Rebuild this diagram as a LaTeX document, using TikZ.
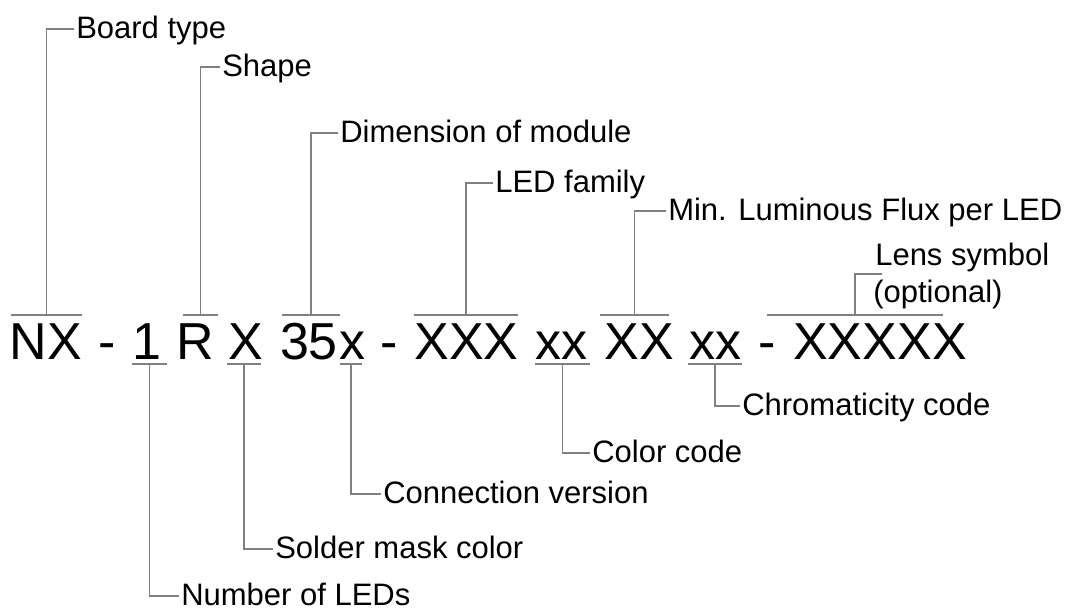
\documentclass[tikz,border=0pt]{standalone}
\usepackage{fontspec}
\setmainfont{Liberation Sans}
\definecolor{linegray}{RGB}{128,128,128}
\begin{document}
\begin{tikzpicture}[x=0.75pt,y=-0.75pt,
  code/.style={font=\fontsize{39}{45}\selectfont, inner sep=0pt, anchor=base},
  lbl/.style={font=\fontsize{23.25}{28}\selectfont, inner xsep=1.5pt, inner ysep=0pt,
              text height=13.5pt, text depth=0pt, anchor=west},
  lblb/.style={font=\fontsize{23.25}{28}\selectfont, inner sep=0pt, anchor=base west},
  bar/.style={inner sep=0pt, minimum height=0pt, minimum width=#1*0.75pt},
  leader/.style={draw=linegray, line width=1pt}]
\useasboundingbox (0,0) rectangle (1070,612);

% code characters
\node[code] (sNX)    at (46,359)  {NX};
\node[code] (sDa)    at (107,359) {-};
\node[code] (sOne)   at (147,359) {1};
\node[code] (sR)     at (195,359) {R};
\node[code] (sX)     at (246,359) {X};
\node[code] (s35)    at (309,359) {35};
\node[code] (sx)     at (352,359) {x};
\node[code] (sDb)    at (389.5,359) {-};
\node[code] (sXXX)   at (466.5,359) {XXX};
\node[code] (sxxA)   at (561,359) {xx};
\node[code] (sXX)    at (639,359) {XX};
\node[code] (sxxB)   at (715,359) {xx};
\node[code] (sDc)    at (767,359) {-};
\node[code] (sXXXXX) at (880,359) {XXXXX};

% overline bars
\node[bar=71]  (oNX)   at (46.5,315) {};
\node[bar=35]  (oR)    at (200.5,315) {};
\node[bar=58]  (o35)   at (311,315) {};
\node[bar=104] (oXXX)  at (466,315) {};
\node[bar=69]  (oXX)   at (634.5,315) {};
\node[bar=176] (oLens) at (855,315) {};
% underline bars
\node[bar=35] (uOne) at (149.5,364) {};
\node[bar=33] (uX)   at (244,364) {};
\node[bar=22] (ux)   at (351,364) {};
\node[bar=55] (uxxA) at (562.5,364) {};
\node[bar=54] (uxxB) at (715,364) {};

\foreach \b in {oNX,oR,o35,oXXX,oXX,oLens,uOne,uX,ux,uxxA,uxxB}
  \draw[leader] (\b.west) -- (\b.east);

% labels
\node[lbl] (tBoard) at (74,29)   {Board type};
\node[lbl] (tShape) at (220,67)  {Shape};
\node[lbl] (tDim)   at (338,133) {Dimension of module};
\node[lbl] (tLED)   at (493,183) {LED family};
\node[lbl] (tFlux)  at (666,211) {Min. Luminous Flux per LED};
\node[lblb] (tLensA) at (875,265) {Lens symbol};
\node[lblb] (tLensB) at (873,302) {(optional)};
\coordinate (cLens) at (882,274);
\node[lbl] (tChrom) at (740,406) {Chromaticity code};
\node[lbl] (tColor) at (590,453) {Color code};
\node[lbl] (tConn)  at (381,494) {Connection version};
\node[lbl] (tSold)  at (273,549) {Solder mask color};
\node[lbl] (tNum)   at (179,596) {Number of LEDs};

% leaders
\draw[leader] (oNX)   |- (tBoard);
\draw[leader] (oR)    |- (tShape);
\draw[leader] (o35)   |- (tDim);
\draw[leader] (oXXX)  |- (tLED);
\draw[leader] (oXX)   |- (tFlux);
\draw[leader] (oLens) |- (cLens);
\draw[leader] (uxxB)  |- (tChrom);
\draw[leader] (uxxA)  |- (tColor);
\draw[leader] (ux)    |- (tConn);
\draw[leader] (uX)    |- (tSold);
\draw[leader] (uOne)  |- (tNum);
\end{tikzpicture}
\end{document}
